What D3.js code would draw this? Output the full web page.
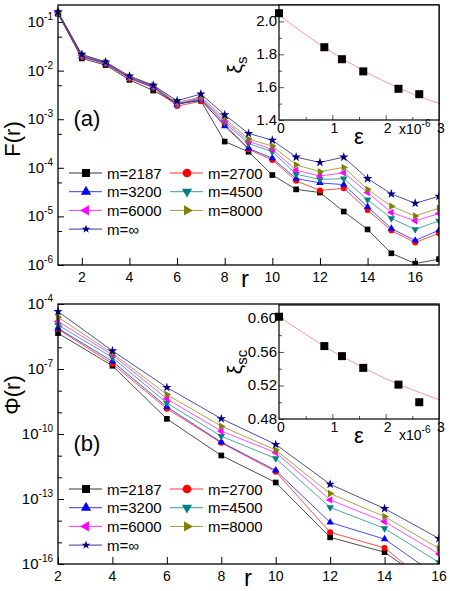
<!DOCTYPE html>
<html>
<head>
<meta charset="utf-8">
<script src="https://cdn.jsdelivr.net/npm/d3@7"></script>
<style>
body{margin:0;background:#fff}
svg{font-family:"Liberation Sans",Arial,Helvetica,sans-serif}
</style>
</head>
<body>
<svg width="450" height="591"></svg>
<script>
// ---- data ----
const series = ["m=2187","m=2700","m=3200","m=4500","m=6000","m=8000","m=\u221e"];

// panel (a): F(r)
const rA = [1,2,3,4,5,6,7,8,9,10,11,12,13,14,15,16,17];
const fA_2187 = [0.148,0.0178,0.0130,0.00646,0.00389,0.00209,0.0024,3.47e-4,2.14e-4,7.1e-5,3.6e-5,3.1e-5,1.26e-5,5.4e-6,1.74e-6,1.07e-6,1.32e-6];
const fA_2700 = [0.151,0.0191,0.0138,0.0069,0.00447,0.00186,0.00234,7.9e-4,2.4e-4,1.45e-4,5.4e-5,3.4e-5,3.8e-5,1.35e-5,5.1e-6,2.9e-6,4.5e-6];
const fA_3200 = [0.151,0.0195,0.0141,0.0071,0.00457,0.0020,0.00257,7.2e-4,2.5e-4,1.58e-4,6.0e-5,4.9e-5,4.5e-5,1.58e-5,5.6e-6,3.2e-6,5.2e-6];
const fA_4500 = [0.152,0.0200,0.0142,0.00724,0.00468,0.00204,0.00263,8.5e-4,3.16e-4,2.14e-4,7.4e-5,5.75e-5,6.0e-5,2.2e-5,9.1e-6,5.4e-6,8.1e-6];
const fA_6000 = [0.155,0.0204,0.0145,0.00728,0.00479,0.00209,0.00275,9.3e-4,3.5e-4,2.4e-4,8.9e-5,6.8e-5,7.9e-5,3.1e-5,1.2e-5,8.1e-6,1.15e-5];
const fA_8000 = [0.155,0.0209,0.0148,0.0074,0.0049,0.00219,0.00288,1.05e-3,3.9e-4,2.8e-4,1.15e-4,8.3e-5,1.02e-4,3.6e-5,1.62e-5,1.02e-5,1.48e-5];
const fA_inf  = [0.162,0.0216,0.0151,0.00776,0.0050,0.0024,0.0033,1.23e-3,5.1e-4,3.7e-4,1.66e-4,1.29e-4,1.66e-4,6.0e-5,2.9e-5,1.86e-5,2.6e-5];

// panel (b): Phi(r)
const rB = [2,4,6,8,10,12,14,16];
const pB_2187 = [4.5e-6,1.41e-7,5.0e-10,1.02e-11,5.8e-13,1.7e-15,3.5e-16,6.3e-18];
const pB_2700 = [6.9e-6,1.74e-7,1.48e-9,3.9e-11,1.82e-12,2.9e-15,5.5e-16,5e-18];
const pB_3200 = [7.6e-6,2.24e-7,1.78e-9,4.2e-11,2.1e-12,8.3e-15,1.41e-15,2.5e-17];
const pB_4500 = [1.07e-5,3.4e-7,2.7e-9,7.9e-11,7.4e-12,4.1e-14,4.4e-15,1.17e-16];
const pB_6000 = [1.55e-5,4.5e-7,4.2e-9,1.35e-10,1.38e-11,9.1e-14,8.9e-15,2.9e-16];
const pB_8000 = [2.45e-5,5.4e-7,6.6e-9,2.3e-10,1.82e-11,1.78e-13,1.55e-14,5.2e-16];
const pB_inf  = [4.5e-5,6.9e-7,1.41e-8,5.1e-10,3.3e-11,4.8e-13,3.6e-14,1.51e-15];

// insets (epsilon in units of 1e-6)
const eps = [0, 0.85, 1.18, 1.58, 2.24, 2.63];
const xiS = [2.05, 1.843, 1.77, 1.696, 1.59, 1.557];
const xiSC = [0.602, 0.567, 0.555, 0.541, 0.521, 0.500];
const epsFit = [0, 0.5, 1, 1.5, 2, 2.5, 3];
const xiSFit = [2.04, 1.919, 1.811, 1.715, 1.631, 1.560, 1.501];
const xiSCFit = [0.602, 0.581, 0.561, 0.544, 0.528, 0.515, 0.503];

// ---- styles ----
const colors = ["#000000","#ff0000","#0000ff","#008080","#ff00ff","#808000","#000080"];
const shapes = [
  {t:d3.symbolSquare, rot:0, s:32, ls:64},
  {t:d3.symbolCircle, rot:0, s:28, ls:60},
  {t:d3.symbolTriangle, rot:0, s:24, ls:45},
  {t:d3.symbolTriangle, rot:180, s:24, ls:45},
  {t:d3.symbolTriangle, rot:-90, s:24, ls:45},
  {t:d3.symbolTriangle, rot:90, s:24, ls:45},
  {t:d3.symbolStar, rot:0, s:28, ls:24}
];

const svg = d3.select("svg");

function supLabel(sel, base, exp) {
  sel.append("tspan").text(base);
  sel.append("tspan").attr("dy", -7).attr("font-size", 10).text(exp);
}

function drawPanel(o) {
  const g = svg.append("g");
  const x = d3.scaleLinear().domain(o.xdom).range([o.left, o.right]);
  const y = d3.scaleLog().domain(o.ydom).range([o.bottom, o.top]);

  g.append("clipPath").attr("id", o.id)
    .append("rect").attr("x", 0).attr("y", o.top).attr("width", o.right).attr("height", o.bottom - o.top);

  // ticks (drawn inside)
  g.append("g").attr("transform", `translate(0,${o.bottom})`)
    .call(d3.axisBottom(x).tickValues(o.xticks).tickSize(-7).tickFormat(""))
    .call(a => a.select(".domain").remove());
  g.append("g").attr("transform", `translate(${o.left},0)`)
    .call(d3.axisLeft(y).tickValues(o.yminor).tickSize(-4).tickFormat(""))
    .call(a => a.select(".domain").remove());
  g.append("g").attr("transform", `translate(${o.left},0)`)
    .call(d3.axisLeft(y).tickValues(o.ymajor).tickSize(-6).tickFormat(""))
    .call(a => a.select(".domain").remove());

  g.selectAll(".xl").data(o.xticks).join("text")
    .attr("x", d => x(d)).attr("y", o.bottom + 17)
    .attr("text-anchor", "middle").attr("font-size", 14).text(d => d);
  g.selectAll(".yl").data(o.ymajor).join("text")
    .attr("x", o.left - 5).attr("y", d => y(d) + 5)
    .attr("text-anchor", "end").attr("font-size", 15)
    .each(function(d) { supLabel(d3.select(this), "10", String(Math.round(Math.log10(d)))); });

  // lines + markers
  const line = d3.line().x((d, i) => x(o.r[i])).y(d => y(d));
  const dg = g.append("g").attr("clip-path", `url(#${o.id})`);
  o.vals.forEach((v, k) => {
    dg.append("path").attr("d", line(v)).attr("fill", "none")
      .attr("stroke", colors[k]).attr("stroke-width", 0.7);
  });
  o.vals.forEach((v, k) => {
    const sh = shapes[k];
    dg.selectAll(null).data(v).join("path")
      .attr("d", d3.symbol().type(sh.t).size(sh.s))
      .attr("transform", (d, i) => `translate(${x(o.r[i])},${y(d)}) rotate(${sh.rot})`)
      .attr("fill", colors[k]);
  });

  // frame
  g.append("rect").attr("x", o.left).attr("y", o.top)
    .attr("width", o.right - o.left).attr("height", o.bottom - o.top)
    .attr("fill", "none").attr("stroke", "#000").attr("stroke-width", 1.3);

  // axis titles
  g.append("text").attr("transform", `translate(20,${o.ylabY}) rotate(-90)`)
    .attr("text-anchor", "middle").attr("font-size", 22).text(o.ylab);
  g.append("text").attr("x", o.rlabX).attr("y", o.bottom + 22)
    .attr("text-anchor", "middle").attr("font-size", 24).text("r");
  g.append("text").attr("x", 87).attr("y", o.tagY)
    .attr("text-anchor", "middle").attr("font-size", 22).text(o.tag);

  // legend
  const lg = g.append("g");
  series.forEach((s, k) => {
    const cx = k % 2 === 0 ? 69 : 170;
    const cy = o.legY + Math.floor(k / 2) * 18.7;
    lg.append("line").attr("x1", cx).attr("x2", cx + 33).attr("y1", cy).attr("y2", cy)
      .attr("stroke", colors[k]).attr("stroke-width", 0.8);
    const sh = shapes[k];
    lg.append("path").attr("d", d3.symbol().type(sh.t).size(sh.ls)())
      .attr("transform", `translate(${cx + 17},${cy}) rotate(${sh.rot})`)
      .attr("fill", colors[k]);
    lg.append("text").attr("x", cx + 38).attr("y", cy + 5.5)
      .attr("font-size", 15).text(s);
  });
  return {x, y};
}

function drawInset(o) {
  const g = svg.append("g");
  const x = d3.scaleLinear().domain([0, 3]).range([o.left, o.right]);
  const y = d3.scaleLinear().domain(o.ydom).range([o.bottom, o.top]);
  g.append("rect").attr("x", o.left).attr("y", o.top)
    .attr("width", o.right - o.left).attr("height", o.bottom - o.top).attr("fill", "#fff");

  g.append("g").attr("transform", `translate(0,${o.bottom})`)
    .call(d3.axisBottom(x).tickValues([0.5, 1.5, 2.5]).tickSize(-3).tickFormat(""))
    .call(a => a.select(".domain").remove());
  g.append("g").attr("transform", `translate(0,${o.bottom})`)
    .call(d3.axisBottom(x).tickValues([1, 2]).tickSize(-5).tickFormat(""))
    .call(a => a.select(".domain").remove());
  g.append("g").attr("transform", `translate(${o.left},0)`)
    .call(d3.axisLeft(y).tickValues(o.yminor).tickSize(-3).tickFormat(""))
    .call(a => a.select(".domain").remove());
  g.append("g").attr("transform", `translate(${o.left},0)`)
    .call(d3.axisLeft(y).tickValues(o.ymajor).tickSize(-5).tickFormat(""))
    .call(a => a.select(".domain").remove());
  g.selectAll("line").attr("stroke", "#555");

  g.selectAll(".ixl").data([0, 1, 2, 3]).join("text")
    .attr("x", d => x(d) + 2).attr("y", o.bottom + 13)
    .attr("text-anchor", "middle").attr("font-size", 14).text(d => d);
  g.selectAll(".iyl").data(o.ymajor).join("text")
    .attr("x", o.left - 2).attr("y", d => y(d) + 5)
    .attr("text-anchor", "end").attr("font-size", 15).text(d => d3.format(o.fmt)(d));

  const fit = d3.line().curve(d3.curveMonotoneX).x((d, i) => x(epsFit[i])).y(d => y(d));
  g.append("path").attr("d", fit(o.fit)).attr("fill", "none")
    .attr("stroke", "#ff8c8c").attr("stroke-width", 0.9);
  g.selectAll(".pt").data(o.vals).join("rect")
    .attr("x", (d, i) => x(eps[i]) - 4).attr("y", d => y(d) - 4)
    .attr("width", 8).attr("height", 8).attr("fill", "#000");

  g.append("rect").attr("x", o.left).attr("y", o.top)
    .attr("width", o.right - o.left).attr("height", o.bottom - o.top)
    .attr("fill", "none").attr("stroke", "#000").attr("stroke-width", 1.2);

  // labels
  const t = g.append("text").attr("transform", `translate(${o.left - 37},${o.labY}) rotate(-90)`)
    .attr("text-anchor", "middle").attr("font-size", 21);
  t.append("tspan").text("\u03be");
  t.append("tspan").attr("dy", 5).attr("font-size", 15).text(o.sub);
  g.append("text").attr("x", 359).attr("y", o.bottom + 24)
    .attr("text-anchor", "middle").attr("font-size", 22).text("\u03b5");
  const e = g.append("text").attr("x", 399).attr("y", o.bottom + o.expDy).attr("font-size", 14);
  e.append("tspan").text("x10");
  e.append("tspan").attr("dy", -7).attr("font-size", 10).text("-6");
}

drawPanel({
  id: "clipA", left: 58, right: 439, top: 5, bottom: 265,
  xdom: [1, 17], ydom: [1e-6, 0.224],
  xticks: [2, 4, 6, 8, 10, 12, 14, 16],
  ymajor: [1e-1, 1e-2, 1e-3, 1e-4, 1e-5, 1e-6],
  yminor: [5e-2, 5e-3, 5e-4, 5e-5, 5e-6],
  r: rA, vals: [fA_2187, fA_2700, fA_3200, fA_4500, fA_6000, fA_8000, fA_inf],
  ylab: "F(r)", ylabY: 139, rlabX: 245, tag: "(a)", tagY: 126, legY: 173
});

drawPanel({
  id: "clipB", left: 58, right: 439, top: 304, bottom: 564,
  xdom: [2, 16], ydom: [1e-16, 1e-4],
  xticks: [2, 4, 6, 8, 10, 12, 14, 16],
  ymajor: [1e-4, 1e-7, 1e-10, 1e-13, 1e-16],
  yminor: [1e-5, 1e-6, 1e-8, 1e-9, 1e-11, 1e-12, 1e-14, 1e-15],
  r: rB, vals: [pB_2187, pB_2700, pB_3200, pB_4500, pB_6000, pB_8000, pB_inf],
  ylab: "\u03a6(r)", ylabY: 395, rlabX: 248, tag: "(b)", tagY: 451, legY: 489
});

drawInset({
  left: 279, right: 439, top: 5, bottom: 120, ydom: [1.4, 2.1],
  ymajor: [1.4, 1.6, 1.8, 2.0], yminor: [1.5, 1.7, 1.9], fmt: ".1f",
  vals: xiS, fit: xiSFit, sub: "s", labY: 65, expDy: 14
});

drawInset({
  left: 279, right: 439, top: 305, bottom: 419, ydom: [0.48, 0.616],
  ymajor: [0.48, 0.52, 0.56, 0.60], yminor: [0.50, 0.54, 0.58], fmt: ".2f",
  vals: xiSC, fit: xiSCFit, sub: "sc", labY: 362, expDy: 21
});
</script>
</body>
</html>
